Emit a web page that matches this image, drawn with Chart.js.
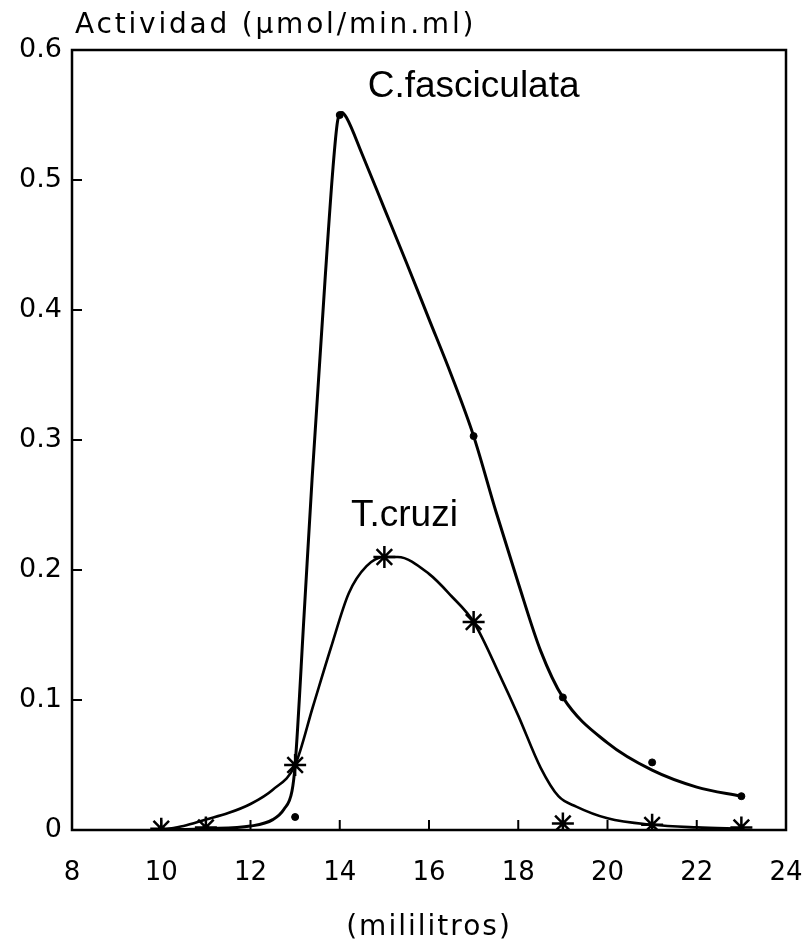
<!DOCTYPE html>
<html><head><meta charset="utf-8"><title>Actividad</title>
<script src="https://cdn.jsdelivr.net/npm/chart.js"></script>
<style>
  body { margin: 0; background: #ffffff; }
  #wrap { width: 807px; height: 944px; position: relative; }
</style>
</head>
<body>
<div id="wrap"><canvas id="chart"></canvas></div>
<script>
// measured points
const fascPointX = [10, 11, 13, 14, 17, 19, 21, 23];
const fascPointY = [0, 0.001, 0.01, 0.55, 0.303, 0.102, 0.052, 0.026];
const cruziPointX = [10, 11, 13, 15, 17, 19, 21, 23];
const cruziPointY = [0.001, 0.002, 0.05, 0.21, 0.16, 0.005, 0.004, 0.002];

// hand-drawn curves
const fascCurveX = [10, 11, 12, 12.5, 12.75, 12.93, 13, 13.2, 13.38, 13.67, 13.85, 13.95, 14.05, 14.15, 14.5, 15, 15.5, 16, 16.5, 17, 17.5, 18, 18.5, 19, 20, 21, 22, 23];
const fascCurveY = [0, 0.001, 0.003, 0.008, 0.016, 0.03, 0.05, 0.165, 0.27, 0.423, 0.51, 0.545, 0.552, 0.548, 0.52, 0.478, 0.436, 0.393, 0.35, 0.303, 0.245, 0.19, 0.138, 0.102, 0.067, 0.046, 0.033, 0.026];
const cruziCurveX = [10, 10.5, 11, 11.5, 12, 12.5, 13, 13.4, 13.8, 14.2, 14.6, 15, 15.3, 16, 16.5, 17, 17.6, 18, 18.5, 18.9, 19.3, 20, 21, 22, 23];
const cruziCurveY = [0, 0.003, 0.008, 0.013, 0.02, 0.031, 0.05, 0.095, 0.14, 0.182, 0.203, 0.21, 0.21, 0.197, 0.18, 0.16, 0.118, 0.088, 0.048, 0.026, 0.018, 0.009, 0.004, 0.002, 0.001];

const xTicks = [8, 10, 12, 14, 16, 18, 20, 22, 24];
const yTicks = [0, 0.1, 0.2, 0.3, 0.4, 0.5, 0.6];

const seriesLabels = [
  { text: 'C.fasciculata', x: 17.0, y: 0.572 },
  { text: 'T.cruzi', x: 15.45, y: 0.242 }
];
const yTitle = 'Actividad (\u00b5mol/min.ml)';
const xTitle = '(mililitros)';

function pts(xs, ys) {
  return xs.map((x, i) => ({ x: x, y: ys[i] }));
}

const frame = {
  id: 'frame',
  beforeDatasetsDraw(chart) {
    const { ctx, chartArea: a, scales } = chart;
    ctx.save();
    ctx.strokeStyle = '#000';
    ctx.lineWidth = 2.5;
    ctx.strokeRect(a.left, a.top, a.right - a.left, a.bottom - a.top);
    ctx.lineWidth = 2;
    ctx.beginPath();
    xTicks.forEach(v => {
      const px = scales.x.getPixelForValue(v);
      ctx.moveTo(px, a.bottom);
      ctx.lineTo(px, a.bottom - 10);
    });
    yTicks.forEach(v => {
      const py = scales.y.getPixelForValue(v);
      ctx.moveTo(a.left, py);
      ctx.lineTo(a.left + 10, py);
    });
    ctx.stroke();
    ctx.restore();
  },
  afterDraw(chart) {
    const { ctx, chartArea: a, scales } = chart;
    ctx.save();
    ctx.fillStyle = '#000';
    ctx.textBaseline = 'middle';
    ctx.font = '37px "Liberation Sans", Arial, sans-serif';
    ctx.textAlign = 'center';
    seriesLabels.forEach(l => {
      ctx.fillText(l.text, scales.x.getPixelForValue(l.x), scales.y.getPixelForValue(l.y));
    });
    ctx.font = '28px "DejaVu Sans", sans-serif';
    ctx.letterSpacing = '2.8px';
    ctx.textAlign = 'left';
    ctx.fillText(yTitle, a.left + 3, a.top - 24);
    ctx.letterSpacing = '2px';
    ctx.textAlign = 'center';
    ctx.fillText(xTitle, (a.left + a.right) / 2, a.bottom + 98);
    ctx.restore();
  }
};

new Chart(document.getElementById('chart'), {
  type: 'scatter',
  data: {
    datasets: [
      {
        data: pts(fascCurveX, fascCurveY),
        showLine: true,
        borderColor: '#000',
        borderWidth: 3,
        pointRadius: 0,
        cubicInterpolationMode: 'monotone'
      },
      {
        data: pts(cruziCurveX, cruziCurveY),
        showLine: true,
        borderColor: '#000',
        borderWidth: 2.6,
        pointRadius: 0,
        cubicInterpolationMode: 'monotone'
      },
      {
        data: pts(fascPointX, fascPointY),
        pointStyle: 'circle',
        pointRadius: 3.5,
        backgroundColor: '#000',
        borderColor: '#000'
      },
      {
        data: pts(cruziPointX, cruziPointY),
        pointStyle: 'star',
        pointRadius: 11,
        borderWidth: 2.5,
        borderColor: '#000',
        backgroundColor: '#000'
      }
    ]
  },
  options: {
    responsive: true,
    maintainAspectRatio: false,
    animation: false,
    layout: { padding: { top: 50, right: 21, left: 0, bottom: 0 } },
    plugins: { legend: { display: false }, tooltip: { enabled: false } },
    scales: {
      x: {
        type: 'linear',
        min: 8,
        max: 24,
        afterBuildTicks(s) { s.ticks = xTicks.map(v => ({ value: v })); },
        ticks: { color: '#000', font: { family: '"DejaVu Sans", sans-serif', size: 26 }, padding: 28, maxRotation: 0 },
        grid: { display: false, drawTicks: false },
        border: { display: false },
        afterFit(s) { s.height = 114; s.paddingLeft = 0; s.paddingRight = 0; }
      },
      y: {
        min: 0,
        max: 0.6,
        afterBuildTicks(s) { s.ticks = yTicks.map(v => ({ value: v })); },
        ticks: {
          color: '#000',
          font: { family: '"DejaVu Sans", sans-serif', size: 27 },
          padding: 10,
          callback: v => v === 0 ? '0' : v.toFixed(1)
        },
        grid: { display: false, drawTicks: false },
        border: { display: false },
        afterFit(s) { s.width = 72; s.paddingTop = 0; s.paddingBottom = 0; }
      }
    }
  },
  plugins: [frame]
});
</script>
</body></html>
